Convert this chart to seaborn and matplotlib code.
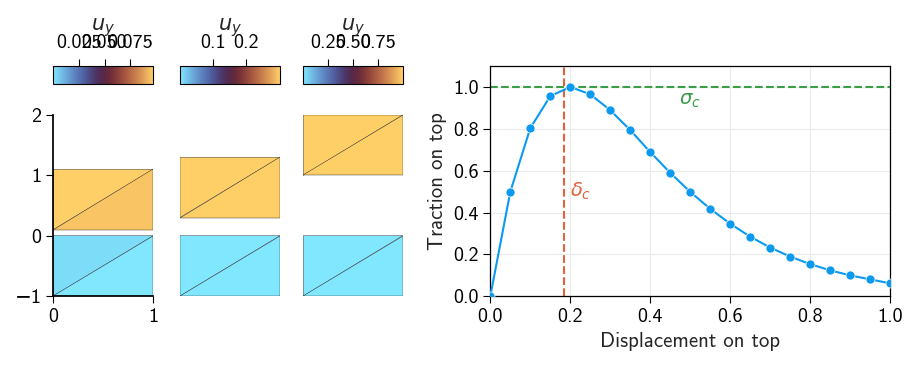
import numpy as np
import seaborn as sns
import matplotlib.pyplot as plt
import matplotlib.tri as mtri

# mesh panels: lift of the upper block, colour range and per-triangle u_y
top_shift = [0.1, 0.3, 1.0]
cbar_max = [0.0976, 0.303, 1.0]
cbar_ticks = [[0.025, 0.050, 0.075], [0.1, 0.2], [0.25, 0.50, 0.75]]
# order: lower block (upper-left, lower-right), upper block (upper-left, lower-right)
face_uy = [[0.002, 0.0, 0.0976, 0.0955],
           [0.0, 0.0, 0.303, 0.303],
           [0.0, 0.0, 1.0, 1.0]]

# traction vs displacement on top
disp = [0.0, 0.05, 0.1, 0.15, 0.2, 0.25, 0.3, 0.35, 0.4, 0.45, 0.5,
        0.55, 0.6, 0.65, 0.7, 0.75, 0.8, 0.85, 0.9, 0.95, 1.0]
traction = [0.0, 0.499, 0.803, 0.956, 1.0, 0.965, 0.889, 0.794, 0.689, 0.590, 0.499,
            0.418, 0.347, 0.285, 0.233, 0.190, 0.154, 0.124, 0.100, 0.081, 0.062]
delta_c = 0.1835
sigma_c = 1.0

sns.set_theme(style='ticks')
plt.rcParams['font.family'] = ['cmss10', 'DejaVu Sans']
plt.rcParams['mathtext.fontset'] = 'dejavusans'
plt.rcParams['axes.formatter.use_mathtext'] = False
plt.rcParams['xtick.labelsize'] = 14.5
plt.rcParams['ytick.labelsize'] = 14.5
plt.rcParams['axes.labelsize'] = 15
plt.rcParams['axes.edgecolor'] = 'black'
plt.rcParams['xtick.color'] = 'black'
plt.rcParams['ytick.color'] = 'black'

cmap = plt.get_cmap('managua_r')

fig = plt.figure(figsize=(9.17, 3.68), dpi=100)
W, H = 917, 368

def frac(x0, y0, x1, y1):
    return [x0 / W, 1 - y1 / H, (x1 - x0) / W, (y1 - y0) / H]

panel_x = [(53.3, 153.3), (180, 280), (303.3, 402.7)]

for i in range(3):
    x0, x1 = panel_x[i]
    ax = fig.add_axes(frac(x0, 115, x1, 296))
    s = top_shift[i]
    pts_x = [0, 1, 1, 0, 0, 1, 1, 0]
    pts_y = [-1, -1, 0, 0, s, s, 1 + s, 1 + s]
    tris = [[0, 2, 3], [0, 1, 2], [4, 6, 7], [4, 5, 6]]
    tri = mtri.Triangulation(pts_x, pts_y, tris)
    pc = ax.tripcolor(tri, facecolors=np.array(face_uy[i]), cmap=cmap,
                      vmin=0, vmax=cbar_max[i], edgecolors='#222222', linewidth=0.3)
    ax.set_xlim(0, 1)
    ax.set_ylim(-1, 2)
    if i == 0:
        ax.set_xticks([0, 1])
        ax.set_yticks([-1, 0, 1, 2])
        sns.despine(ax=ax)
        ax.tick_params(length=5, width=0.8)
    else:
        ax.axis('off')

    cax = fig.add_axes(frac(x0, 66, x1, 84))
    cb = fig.colorbar(pc, cax=cax, orientation='horizontal', ticks=cbar_ticks[i])
    cb.ax.xaxis.set_ticks_position('top')
    cb.ax.xaxis.set_label_position('top')
    cb.ax.tick_params(length=5, width=0.8, labelsize=14.5, pad=5)
    cb.set_label(r'$u_y$', fontsize=15, labelpad=3)
    cb.outline.set_linewidth(0.8)

ax = fig.add_axes(frac(490.3, 66, 890, 296.3))
ax.grid(True, color='#ebebeb', linewidth=0.8)
ax.set_axisbelow(True)
ax.axhline(sigma_c, ls='--', color='#3a9e48', lw=1.5, zorder=1)
ax.axvline(delta_c, ls='--', color='#e0623e', lw=1.5, zorder=1)
sns.lineplot(x=disp, y=traction, ax=ax, color='#0c9af0', marker='o',
             markersize=6.5, markeredgecolor='white', markeredgewidth=0.5,
             linewidth=1.5, zorder=3)
ax.text(0.5, 0.935, r'$\sigma_c$', color='#3a9e48', fontsize=14,
        ha='center', va='center')
ax.text(0.2, 0.5, r'$\delta_c$', color='#e0623e', fontsize=14,
        ha='left', va='center')
ax.set_xlim(0, 1)
ax.set_ylim(0, 1.1)
ax.set_xticks([0.0, 0.2, 0.4, 0.6, 0.8, 1.0])
ax.set_yticks([0.0, 0.2, 0.4, 0.6, 0.8, 1.0])
ax.set_xlabel('Displacement on top')
ax.set_ylabel('Traction on top')
ax.tick_params(length=5, width=0.8)
for sp in ax.spines.values():
    sp.set_linewidth(0.9)

fig.savefig('out.png', dpi=100)
